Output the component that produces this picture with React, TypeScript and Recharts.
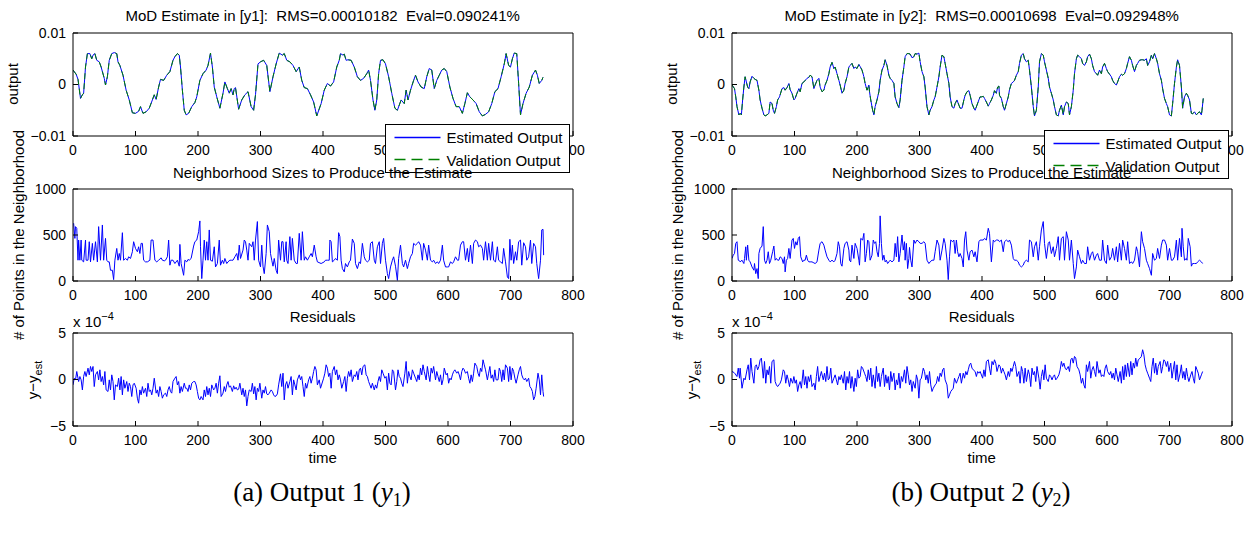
import React from "react";
import { LineChart, Line, XAxis, YAxis } from "recharts";

const FONT = '"Liberation Sans", Arial, Helvetica, sans-serif';
const SERIF = '"Liberation Serif", "Times New Roman", serif';

const timeTicks = [0, 100, 200, 300, 400, 500, 600, 700, 800];
const outputTicks = [-0.01, 0, 0.01];
const sizeTicks = [0, 500, 1000];
const residualTicks = [-5, 0, 5];

// ---- output 1: estimated output (validation output lies on top of it) ----
const y1Time = [
  0, 5, 8, 12, 15, 17, 20, 23, 27, 30,
  32, 35, 38, 42, 45, 50, 52, 55, 58, 62,
  66, 70, 72, 75, 80, 85, 90, 95, 100, 105,
  108, 112, 117, 122, 127, 130, 133, 137, 140, 145,
  150, 155, 160, 163, 167, 170, 172, 175, 178, 181,
  185, 190, 195, 198, 203, 208, 213, 216, 220, 223,
  226, 230, 235, 240, 243, 247, 250, 253, 256, 258,
  260, 265, 270, 275, 280, 285, 289, 292, 296, 300,
  305, 310, 315, 320, 325, 330, 335, 338, 342, 347,
  352, 357, 362, 366, 370, 375, 380, 385, 390, 397,
  402, 407, 412, 417, 422, 426, 428, 432, 434, 437,
  440, 445, 450, 455, 460, 465, 470, 473, 476, 480,
  483, 486, 489, 492, 496, 500, 505, 510, 515, 519,
  525, 530, 533, 536, 540, 545, 548, 552, 557, 562,
  566, 570, 574, 578, 582, 586, 590, 594, 598, 603,
  608, 613, 618, 623, 627, 631, 635, 640, 645, 650,
  655, 660, 665, 670, 675, 680, 685, 690, 693, 697,
  700, 703, 706, 710, 713, 716, 720, 725, 730, 735,
  740, 743, 746, 750, 752,
];
const y1Output = [
  0.0028, 0.002, 0.001, -0.0027, -0.002, -0.0017, 0.0034, 0.006, 0.006, 0.005,
  0.0057, 0.006, 0.0047, 0.0044, 0.0034, 0.0012, -0.0001, 0.0015, 0.0047, 0.006,
  0.0062, 0.006, 0.0044, 0.0037, 0.0018, -0.0011, -0.003, -0.0055, -0.0056, -0.0052,
  -0.0043, -0.0056, -0.0053, -0.0046, -0.003, -0.002, -0.0029, -0.0005, 0.001, 0.0008,
  0.0018, 0.0025, 0.0047, 0.0054, 0.006, 0.0057, 0.0034, -0.0011, -0.005, -0.0059,
  -0.0056, -0.0043, -0.0035, -0.0024, 0.0008, 0.0021, 0.0028, 0.0037, 0.0061, 0.0034,
  -0.0005, -0.0024, -0.0046, -0.0017, 0.0005, -0.0008, -0.0017, -0.0008, -0.002, -0.0008,
  -0.0006, -0.0048, -0.003, -0.002, -0.0014, -0.0043, -0.005, -0.002, 0.004, 0.0044,
  0.0047, 0.0037, -0.0014, 0.0015, 0.004, 0.0061, 0.0057, 0.006, 0.0047, 0.0044,
  0.0037, 0.0025, 0.0034, 0.0008, -0.0006, -0.0008, -0.002, -0.0034, -0.0061, -0.0037,
  -0.0011, 0.0002, -0.0003, 0.0005, 0.0034, 0.0047, 0.006, 0.0057, 0.0059, 0.0047,
  0.0048, 0.0047, 0.0034, 0.0015, 0.0008, 0.0012, 0.0021, 0.0028, 0.0008, -0.003,
  -0.005, -0.003, 0.0021, 0.0047, 0.0048, 0.004, 0.0015, -0.0017, -0.0046, -0.005,
  -0.003, -0.0037, -0.0011, -0.003, -0.0011, 0.0008, 0.0018, 0.0005, -0.0005, -0.0008,
  0.0015, 0.0031, 0.0028, -0.0008, 0.0008, 0.0018, 0.0028, 0.0031, 0.0025, -0.0005,
  -0.0027, -0.0043, -0.0043, -0.0056, -0.0037, -0.0016, -0.0024, -0.003, -0.0037, -0.0053,
  -0.0061, -0.0058, -0.0053, -0.0037, -0.0014, -0.0008, 0.0015, 0.004, 0.006, 0.0037,
  0.0034, 0.005, 0.0061, 0.006, 0.0002, -0.0059, -0.0037, -0.0017, -0.0005, 0.0018,
  0.0028, 0.0018, 0.0002, 0.0008, 0.0014,
];

// ---- output 2 ----
const y2Time = [
  0, 4, 6, 8, 11, 13, 15, 17, 19, 21,
  23, 25, 27, 29, 32, 35, 37, 40, 43, 45,
  48, 51, 53, 56, 59, 61, 64, 66, 68, 71,
  73, 76, 80, 83, 85, 88, 91, 93, 96, 99,
  101, 104, 107, 109, 112, 115, 120, 123, 125, 128,
  131, 133, 136, 139, 141, 144, 147, 149, 152, 155,
  157, 160, 163, 165, 168, 171, 173, 176, 179, 181,
  184, 187, 189, 192, 195, 197, 200, 203, 205, 208,
  211, 213, 216, 219, 220, 222, 225, 227, 229, 232,
  235, 237, 240, 243, 245, 248, 251, 253, 256, 259,
  261, 264, 267, 269, 272, 275, 277, 280, 283, 285,
  288, 291, 293, 296, 299, 301, 304, 307, 309, 312,
  315, 317, 320, 323, 325, 328, 331, 333, 336, 339,
  341, 344, 347, 349, 352, 355, 357, 360, 363, 365,
  368, 371, 373, 376, 379, 381, 384, 387, 389, 392,
  395, 397, 399, 402, 404, 407, 410, 412, 415, 418,
  420, 423, 425, 427, 428, 431, 434, 436, 439, 442,
  444, 447, 450, 452, 455, 458, 460, 463, 466, 468,
  471, 474, 476, 479, 482, 484, 487, 490, 492, 495,
  498, 500, 503, 506, 508, 511, 514, 516, 519, 522,
  524, 527, 530, 532, 535, 538, 540, 543, 546, 548,
  551, 553, 556, 559, 561, 564, 567, 569, 572, 575,
  577, 580, 583, 585, 588, 591, 593, 596, 599, 601,
  604, 607, 609, 612, 615, 617, 620, 623, 625, 628,
  631, 633, 636, 639, 641, 644, 647, 649, 652, 655,
  657, 660, 663, 665, 668, 671, 673, 676, 679, 681,
  684, 687, 689, 692, 695, 697, 700, 703, 705, 708,
  711, 713, 716, 719, 721, 724, 727, 729, 732, 735,
  737, 740, 743, 745, 748, 751, 752, 754,
];
const y2Output = [
  -0.0001, -0.0008, -0.0024, -0.0043, -0.0059, -0.0056, -0.0059, -0.003, -0.0005, 0.0015,
  0.0005, -0.0005, -0.0008, 0.0005, 0.0016, 0.0012, 0.001, 0.0008, -0.0011, -0.003,
  -0.0046, -0.0059, -0.0061, -0.0059, -0.0056, -0.0034, -0.0037, -0.005, -0.0056, -0.0043,
  -0.003, -0.0024, -0.0008, -0.0006, -0.0011, -0.0006, 0.0002, -0.001, -0.0017, -0.003,
  -0.0027, -0.0017, -0.0008, -0.0014, 0.0002, 0.0005, 0.0012, 0.0014, 0.0018, 0.0015,
  -0.0008, -0.0001, 0.0008, 0.0012, -0.0005, -0.0014, -0.0011, -0.0001, 0.0008, 0.0021,
  0.0034, 0.0043, 0.0031, 0.0034, 0.0021, 0.0008, -0.0001, -0.0017, -0.0011, 0.0002,
  0.0015, 0.0034, 0.0037, 0.0041, 0.0031, 0.0034, 0.0031, 0.0039, 0.0035, 0.0028,
  0.0015, 0.0002, -0.0011, -0.0001, -0.0014, -0.003, -0.005, -0.0059, -0.0043, -0.003,
  -0.0014, 0.0008, 0.0028, 0.0037, 0.0048, 0.0037, 0.0018, 0.0012, 0.0008, 0.0002,
  -0.0024, -0.0037, -0.0045, -0.003, 0.0008, 0.0034, 0.0054, 0.006, 0.006, 0.0059,
  0.0052, 0.0054, 0.006, 0.0059, 0.0061, 0.0044, 0.0025, 0.0015, -0.0005, -0.0043,
  -0.0059, -0.005, -0.0043, -0.003, -0.0024, -0.0005, 0.0015, 0.0034, 0.0057, 0.0054,
  0.0041, 0.0021, 0.0002, -0.0024, -0.0043, -0.0046, -0.0037, -0.003, -0.004, -0.0046,
  -0.0046, -0.003, -0.0021, -0.0014, -0.0012, -0.0021, -0.0037, -0.0046, -0.005, -0.004,
  -0.003, -0.0024, -0.0024, -0.0023, -0.0027, -0.0034, -0.0042, -0.0037, -0.003, -0.0021,
  -0.0012, -0.0017, -0.0005, -0.0003, -0.0021, -0.0027, -0.0043, -0.005, -0.0037, -0.0024,
  -0.001, 0.0002, 0.0005, 0.0008, 0.0018, 0.0025, 0.0041, 0.0057, 0.006, 0.005,
  0.0044, 0.0047, 0.0028, -0.0005, -0.0043, -0.0061, -0.005, -0.0005, 0.0044, 0.006,
  0.0057, 0.0044, 0.0028, 0.0012, -0.0005, -0.0017, -0.003, -0.0043, -0.0059, -0.0061,
  -0.005, -0.004, -0.0059, -0.0043, -0.0034, -0.0037, -0.0059, -0.0043, -0.0011, 0.0021,
  0.005, 0.0057, 0.0054, 0.005, 0.0041, 0.0037, 0.0044, 0.0054, 0.0059, 0.005,
  0.0037, 0.0025, 0.0021, 0.0018, 0.0028, 0.0021, 0.0034, 0.0041, 0.0031, 0.0025,
  0.002, 0.0015, 0.0008, 0.0002, -0.0001, 0.0005, 0.0015, 0.002, 0.0018, 0.0021,
  0.0031, 0.0041, 0.0054, 0.0047, 0.0037, 0.0025, 0.0037, 0.0041, 0.0047, 0.0048,
  0.0048, 0.0047, 0.005, 0.0037, 0.0044, 0.0057, 0.005, 0.006, 0.005, 0.0041,
  0.0021, 0.0008, -0.0008, -0.0027, -0.0037, -0.0043, -0.0059, -0.0061, -0.0037, 0.0002,
  0.0034, 0.0048, 0.0037, -0.0005, -0.0046, -0.0024, -0.0017, -0.0021, -0.003, -0.0056,
  -0.0057, -0.0053, -0.0059, -0.0056, -0.0053, -0.0059, -0.005, -0.0027,
];

// ---- neighborhood sizes, output 1 ----
const n1Time = [
  1, 3, 4, 6, 8, 9, 11, 13, 14, 17,
  20, 21, 24, 26, 28, 31, 33, 36, 39, 41,
  44, 47, 49, 52, 54, 56, 58, 60, 63, 65,
  67, 70, 72, 74, 76, 79, 81, 84, 87, 89,
  92, 95, 97, 100, 103, 105, 107, 109, 111, 113,
  116, 119, 123, 125, 128, 131, 134, 137, 141, 143,
  146, 148, 151, 153, 155, 157, 160, 163, 167, 170,
  171, 173, 177, 179, 182, 184, 186, 189, 193, 195,
  198, 201, 203, 204, 206, 208, 210, 212, 214, 216,
  218, 220, 223, 226, 228, 231, 234, 236, 239, 241,
  243, 246, 248, 251, 254, 256, 259, 262, 264, 266,
  268, 272, 274, 276, 278, 280, 282, 286, 288, 290,
  292, 295, 297, 300, 302, 304, 306, 309, 311, 314,
  316, 318, 320, 322, 325, 327, 329, 332, 334, 336,
  338, 341, 342, 344, 347, 349, 351, 354, 357, 359,
  362, 365, 367, 370, 372, 375, 378, 381, 383, 386,
  389, 391, 397, 402, 404, 407, 410, 411, 413, 415,
  418, 420, 423, 425, 427, 429, 431, 434, 436, 439,
  442, 444, 447, 450, 452, 455, 458, 460, 463, 466,
  468, 471, 474, 476, 479, 482, 484, 487, 490, 492,
  495, 497, 500, 503, 505, 508, 511, 513, 516, 519,
  521, 524, 527, 529, 532, 535, 537, 540, 543, 545,
  548, 551, 553, 556, 559, 561, 564, 567, 569, 572,
  575, 577, 580, 583, 585, 588, 591, 593, 596, 599,
  601, 604, 607, 609, 612, 615, 617, 620, 623, 625,
  628, 631, 633, 636, 639, 641, 644, 647, 649, 652,
  655, 657, 660, 663, 665, 668, 671, 673, 676, 679,
  681, 684, 687, 689, 692, 695, 697, 699, 701, 703,
  705, 708, 710, 713, 716, 718, 721, 724, 726, 729,
  732, 734, 737, 740, 742, 745, 748, 750, 752, 753,
];
const n1Size = [
  628, 463, 591, 573, 226, 445, 226, 445, 226, 208,
  445, 226, 226, 427, 208, 409, 226, 427, 208, 591,
  226, 609, 226, 463, 226, 208, 208, 117, 117, 15,
  226, 354, 226, 299, 226, 525, 226, 245, 226, 263,
  245, 318, 427, 354, 318, 372, 299, 409, 409, 226,
  208, 208, 226, 445, 445, 226, 208, 226, 252, 226,
  219, 226, 263, 445, 172, 226, 226, 190, 226, 161,
  398, 190, 62, 226, 208, 234, 226, 245, 380, 427,
  445, 536, 653, 372, 26, 226, 445, 226, 427, 226,
  555, 226, 215, 372, 153, 190, 445, 172, 226, 190,
  245, 190, 208, 226, 226, 226, 263, 299, 226, 390,
  245, 336, 445, 427, 336, 226, 409, 372, 427, 226,
  445, 646, 226, 153, 390, 161, 80, 299, 609, 536,
  299, 226, 161, 245, 117, 80, 445, 226, 427, 427,
  208, 427, 226, 190, 482, 226, 463, 226, 190, 190,
  518, 226, 536, 226, 263, 226, 263, 299, 263, 390,
  263, 208, 190, 208, 226, 226, 226, 445, 427, 208,
  226, 245, 226, 525, 482, 226, 135, 99, 190, 153,
  208, 226, 456, 409, 190, 135, 208, 190, 409, 263,
  226, 208, 226, 409, 427, 226, 190, 372, 427, 190,
  409, 463, 226, 80, 26, 153, 226, 263, 161, 7,
  245, 390, 190, 153, 226, 135, 190, 263, 299, 409,
  390, 409, 427, 390, 226, 409, 336, 226, 390, 226,
  208, 226, 190, 208, 190, 226, 390, 226, 153, 153,
  153, 208, 190, 208, 263, 226, 226, 390, 427, 427,
  226, 354, 208, 390, 190, 409, 445, 427, 372, 390,
  354, 226, 427, 226, 409, 226, 427, 226, 208, 372,
  226, 208, 190, 354, 208, 44, 26, 453, 226, 390,
  190, 318, 226, 427, 445, 172, 416, 372, 226, 263,
  445, 190, 409, 372, 190, 26, 226, 555, 562, 281,
];

// ---- neighborhood sizes, output 2 ----
const n2Time = [
  0, 2, 4, 6, 8, 10, 11, 13, 16, 19,
  20, 22, 23, 25, 27, 29, 32, 35, 36, 38,
  40, 42, 43, 45, 48, 50, 52, 54, 56, 58,
  60, 62, 65, 67, 69, 71, 73, 75, 77, 80,
  82, 84, 85, 87, 89, 91, 93, 96, 98, 100,
  102, 104, 106, 108, 110, 113, 115, 117, 119, 121,
  123, 125, 128, 131, 133, 136, 139, 141, 144, 147,
  149, 152, 155, 157, 160, 163, 165, 168, 170, 172,
  174, 176, 179, 181, 184, 187, 188, 190, 192, 195,
  197, 200, 203, 204, 206, 209, 211, 213, 215, 217,
  219, 221, 224, 226, 228, 230, 232, 234, 236, 237,
  239, 241, 243, 245, 247, 249, 251, 253, 256, 259,
  261, 263, 265, 267, 269, 272, 274, 276, 277, 279,
  281, 283, 284, 286, 288, 291, 293, 296, 299, 301,
  304, 307, 309, 312, 315, 317, 320, 323, 325, 328,
  331, 333, 336, 339, 341, 344, 346, 348, 350, 353,
  355, 357, 359, 361, 363, 365, 368, 370, 372, 374,
  376, 379, 381, 384, 387, 389, 392, 395, 397, 402,
  404, 407, 410, 412, 415, 418, 420, 423, 426, 428,
  431, 434, 436, 439, 442, 444, 447, 450, 452, 455,
  458, 460, 463, 466, 468, 471, 474, 476, 479, 482,
  484, 487, 490, 492, 495, 498, 500, 503, 506, 508,
  511, 514, 516, 519, 522, 524, 527, 530, 532, 535,
  538, 540, 543, 546, 548, 551, 553, 556, 559, 561,
  564, 567, 569, 572, 575, 577, 580, 583, 585, 588,
  591, 593, 596, 599, 601, 604, 607, 609, 612, 615,
  617, 620, 623, 625, 628, 631, 633, 636, 639, 641,
  644, 647, 649, 652, 655, 657, 660, 663, 665, 668,
  671, 673, 676, 679, 681, 684, 687, 689, 692, 695,
  697, 700, 703, 705, 708, 711, 713, 716, 719, 720,
  722, 724, 727, 728, 730, 733, 735, 737, 740, 743,
  745, 748, 751, 753,
];
const n2Size = [
  245, 281, 299, 409, 427, 226, 226, 208, 226, 190,
  245, 372, 226, 390, 226, 208, 153, 117, 190, 80,
  135, 26, 299, 354, 380, 591, 226, 190, 226, 318,
  190, 226, 318, 380, 226, 245, 226, 226, 263, 245,
  190, 263, 99, 226, 245, 354, 245, 445, 463, 354,
  427, 390, 463, 482, 263, 208, 226, 226, 281, 226,
  208, 208, 208, 197, 190, 208, 336, 409, 427, 390,
  336, 263, 226, 208, 226, 208, 226, 299, 427, 372,
  190, 161, 354, 409, 427, 336, 226, 208, 390, 245,
  409, 354, 226, 172, 463, 445, 518, 208, 299, 445,
  427, 226, 281, 445, 409, 427, 318, 263, 409, 708,
  409, 226, 281, 208, 226, 190, 208, 226, 208, 226,
  409, 263, 482, 208, 299, 500, 336, 427, 226, 409,
  135, 245, 365, 226, 153, 445, 409, 445, 427, 409,
  409, 427, 409, 226, 190, 208, 226, 226, 318, 445,
  390, 226, 336, 463, 409, 226, 15, 263, 445, 427,
  445, 299, 445, 318, 263, 299, 245, 153, 445, 536,
  336, 226, 318, 336, 263, 318, 208, 427, 445, 445,
  463, 445, 573, 518, 208, 445, 427, 445, 445, 427,
  445, 318, 427, 445, 427, 445, 390, 245, 226, 226,
  208, 172, 153, 172, 208, 226, 208, 445, 427, 263,
  372, 427, 226, 372, 555, 646, 409, 245, 409, 427,
  299, 372, 263, 354, 482, 226, 463, 482, 226, 536,
  445, 226, 445, 190, 26, 153, 336, 263, 190, 226,
  190, 190, 372, 226, 299, 318, 226, 281, 299, 226,
  226, 445, 226, 190, 390, 226, 263, 354, 226, 372,
  208, 409, 226, 445, 354, 226, 427, 190, 208, 190,
  226, 372, 318, 153, 536, 427, 354, 226, 190, 135,
  62, 299, 226, 245, 354, 245, 390, 445, 445, 390,
  226, 354, 226, 226, 263, 445, 226, 463, 263, 573,
  372, 226, 245, 226, 463, 372, 161, 190, 190, 190,
  208, 226, 208, 190,
];

// ---- residuals, output 1 (x 1e-4) ----
const r1Time = [
  0, 2, 4, 6, 9, 11, 13, 15, 17, 19,
  21, 24, 26, 28, 30, 32, 34, 36, 39, 41,
  43, 45, 47, 49, 51, 53, 56, 58, 60, 62,
  64, 66, 68, 71, 73, 75, 77, 79, 81, 83,
  86, 88, 90, 92, 94, 96, 98, 101, 103, 105,
  107, 109, 111, 113, 116, 118, 120, 122, 124, 126,
  128, 130, 133, 135, 137, 139, 141, 143, 145, 148,
  150, 152, 154, 156, 158, 160, 163, 165, 167, 169,
  171, 173, 175, 178, 180, 182, 184, 186, 188, 190,
  193, 195, 197, 199, 201, 203, 205, 208, 210, 212,
  214, 216, 218, 220, 222, 225, 227, 229, 231, 233,
  235, 237, 240, 242, 244, 246, 248, 250, 252, 255,
  257, 259, 261, 263, 265, 267, 270, 272, 274, 276,
  278, 280, 282, 285, 287, 289, 291, 293, 295, 297,
  299, 302, 304, 306, 308, 310, 312, 314, 317, 319,
  321, 323, 325, 327, 329, 332, 334, 336, 338, 340,
  342, 344, 347, 349, 351, 353, 355, 357, 359, 362,
  364, 366, 368, 370, 372, 374, 377, 379, 381, 383,
  385, 387, 389, 391, 394, 396,
  401, 403, 405, 407, 409, 411, 413, 415, 418, 420,
  422, 424, 426, 428, 430, 433, 435, 437, 439, 441,
  443, 445, 447, 450, 452, 454, 456, 458, 460, 462,
  464, 467, 469, 471, 473, 475, 477, 479, 482, 484,
  486, 488, 490, 492, 494, 496, 499, 501, 503, 505,
  507, 509, 511, 513, 516, 518, 520, 522, 524, 526,
  528, 531, 533, 535, 537, 539, 541, 543, 545, 548,
  550, 552, 554, 556, 558, 560, 562, 565, 567, 569,
  571, 573, 575, 577, 580, 582, 584, 586, 588, 590,
  592, 594, 597, 599, 601, 603, 605, 607, 609, 611,
  614, 616, 618, 620, 622, 624, 626, 628, 631, 633,
  635, 637, 639, 641, 643, 646, 648, 650, 652, 654,
  656, 658, 660, 663, 665, 667, 669, 671, 673, 675,
  677, 680, 682, 684, 686, 688, 690, 692, 695, 697,
  699, 701, 703, 705, 707, 709, 712, 714, 716, 718,
  720, 722, 724, 726, 729, 731, 733, 735, 737, 739,
  741, 744, 746, 748, 750, 752, 753,
];
const r1Residual = [
  -0.58, 0.14, -0.04, 0.86, -0.22, 0.32, -0.04, -1.12, 0.32, 0.86,
  0.32, 1.22, 0.5, 1.4, 0.86, 1.4, -0.76, 0.5, 0.86, -0.04,
  1.04, -0.22, 0.32, -0.58, 0.86, -1.12, -1.29, -0.04, -1.12, 0.5,
  -0.22, -2.19, -0.58, -0.76, 0.14, -1.12, 0.32, -1.65, -0.04, -0.94,
  -0.22, -1.29, -0.4, -0.76, -1.83, -0.58, -0.4, -0.94, -2.01, -2.55,
  -1.12, -1.65, -0.76, -1.47, -0.94, -1.83, -0.4, -1.29, -1.12, -1.65,
  -0.94, 0.14, -1.47, -1.12, -1.83, -0.76, -1.29, -2.01, -1.65, -1.47,
  -1.83, -1.12, -0.76, -1.29, -1.47, -0.22, 0.14, 0.32, -0.58, -0.22,
  -1.47, -0.76, -1.29, -0.4, -0.94, -0.94, -1.29, -0.58, -1.12, -0.4,
  -0.22, -0.22, -0.58, -1.29, -2.01, -2.19, -1.83, -2.19, -1.12, -1.83,
  -0.76, -1.65, -0.94, -1.83, -0.58, -1.12, -0.94, -0.4, -1.47, -0.4,
  0.4, -1.83, -1.47, -0.76, -1.29, -0.58, -0.22, -0.83, -0.68, -1.29,
  -0.68, -1.04, -0.83, -1.12, -1.04, -0.4, -1.65, -0.94, -1.83, -1.12,
  -2.84, -1.83, -1.12, -1.29, -0.4, -1.55, -0.76, -2.19, -0.94, -1.29,
  -0.4, -2.01, -1.12, -1.47, -0.76, -1.55, -1.65, -1.47, -1.12, -1.29,
  -1.65, -1.83, -1.76, -1.55, -0.58, 0.61, -0.76, 0.68, -2.19, -0.58,
  -0.22, -0.94, -0.22, 0.32, -1.65, -0.04, -0.58, -1.12, -0.04, 0.5,
  -0.04, 0.32, -0.76, -1.83, -0.4, -0.94, -0.04, 0.32, -0.4, 0.14,
  0.86, 1.4, 1.04, -0.58, -0.04, -0.94,
  0.14, 0.68, 1.58, 1.22, 0.32, 0.68, -0.94, 0.86, 1.4, 0.5,
  1.04, -0.04, 0.5, -0.04, -0.94, -0.22, 0.32, -1.29, 0.14, 0.86,
  0.32, 1.04, -0.22, 0.5, 0.32, 0.86, -0.04, 1.04, 1.22, 0.5,
  1.4, 1.58, 0.5, 0.32, -0.22, -0.58, -0.94, -0.4, -1.12, -0.58,
  -0.94, -0.22, 0.32, -0.22, 1.04, 0.68, 0.14, 0.32, -1.12, 0.68,
  -0.4, -0.58, 1.04, 0.86, -1.12, -0.22, 1.04, 0.32, 0.14, -0.4,
  -0.76, 0.68, 1.94, -0.4, 0.86, 0.32, -0.04, 1.04, 0.68, 0.14,
  -0.22, 0.5, -0.04, 1.22, 0.5, 1.58, 0.86, -0.04, 1.4, 0.5,
  -0.22, 1.22, 0.68, 1.4, -0.04, 0.86, 0.32, -0.22, 0.5, -0.58,
  -0.04, 1.22, 0.5, 0.68, -0.4, 0.14, -0.04, 0.5, 0.86, 1.04,
  0.68, 0.86, 0.5, -0.04, 0.86, 1.22, 1.04, 0.68, 0.86, 0.14,
  -0.4, 0.5, -0.22, 0.68, 1.76, 1.4, 0.68, 0.32, 1.22, 0.86,
  2.12, 1.58, 1.04, -0.04, 0.68, 1.4, 0.14, 0.5, -0.22, 1.04,
  -0.04, -0.04, 1.22, 0.86, -0.22, 1.04, -0.04, 1.58, 1.22, -0.22,
  1.4, -0.04, 1.22, 0.86, 0.14, -0.4, 0.5, 1.04, 1.4, 0.5,
  0.14, -0.04, 0.14, -0.22, 0.14, -0.76, -0.94, -1.29, -2.19, -1.83,
  -0.94, 0.68, -0.04, -1.65, 0.5, -1.29, -1.83,
];

// ---- residuals, output 2 (x 1e-4) ----
const r2Time = [
  0, 3, 5, 8, 10, 12, 13, 16, 19, 21, 24,
  26, 28, 30, 32, 35, 37, 39, 41, 43, 45,
  47, 50, 52, 54, 56, 58, 60, 62, 64, 67,
  69, 71, 73, 75, 77, 79, 82, 84, 86, 88,
  90, 92, 94, 97, 99, 101, 103, 105, 107, 109,
  111, 114, 116, 118, 120, 122, 124, 126, 128, 131,
  133, 135, 137, 139, 141, 143, 146, 148, 150, 152,
  154, 156, 158, 160, 163, 165, 167, 169, 171, 173,
  175, 178, 180, 182, 184, 186, 188, 190, 192, 195,
  197, 199, 201, 203, 205, 207, 209, 212, 214, 216,
  218, 220, 222, 224, 226, 229, 231, 233, 235, 237,
  239, 242, 244, 246, 248, 250, 252, 254, 256, 259,
  261, 263, 265, 267, 269, 271, 273, 276, 278, 280,
  282, 284, 286, 288, 290, 293, 295, 297, 299, 301,
  303, 306, 308, 310, 312, 314, 316, 318, 320, 322,
  325, 327, 329, 331, 333, 335, 337, 339, 341, 344,
  346, 348, 350, 352, 354, 356, 359, 361, 363, 365,
  367, 370, 372, 374, 376, 378, 380, 382, 384, 386,
  389, 391, 393, 395, 397,
  401, 403, 405, 407, 410, 412, 414, 416, 418, 420,
  422, 424, 427, 429, 431, 433, 435, 437, 439, 442,
  444, 446, 448, 450, 452, 454, 456, 459, 461, 463,
  465, 467, 469, 471, 474, 476, 478, 480, 482, 484,
  486, 488, 491, 493, 495, 497, 499, 501, 503, 506,
  508, 510, 512, 514, 516, 518, 520, 523, 525, 527,
  529, 531, 533, 535, 538, 540, 542, 544, 546, 548,
  550, 552, 555, 557, 559, 561, 563, 565, 567, 569,
  572, 574, 576, 578, 580, 582, 584, 587, 589, 591,
  593, 595, 597, 599, 601, 604, 606, 608, 610, 612,
  614, 616, 618, 621, 623, 625, 627, 629, 631, 633,
  636, 638, 640, 642, 644, 646, 648, 650, 653, 655,
  657, 659, 661, 663, 665, 668, 670, 672, 674, 676,
  678, 680, 682, 685, 687, 689, 691, 693, 695, 697,
  699, 702, 704, 706, 708, 710, 712, 714, 717, 719,
  721, 723, 725, 727, 729, 731, 734, 736, 738, 740,
  742, 744, 746, 748, 751, 753,
];
const r2Residual = [
  0.86, 0.76, 0.61, 0.32, 1.22, 0.14, 1.22, -0.94, 0.14, -0.04, 1.04,
  1.58, -0.04, 2.3, 0.86, -0.4, 1.4, 1.58, 1.04, 1.4, 2.12,
  2.3, 0.14, 1.94, -0.4, 1.04, 0.5, 1.4, -0.4, 1.94, 2.12,
  -0.22, -0.58, -0.76, -0.58, -0.4, -0.04, 1.04, 0.86, -0.4, 0.5,
  -0.04, -0.76, 0.14, -0.4, 0.32, -0.4, -0.04, -1.29, -0.58, -0.22,
  -0.94, 1.04, -0.58, 0.32, -0.94, 0.32, -0.22, 0.5, -0.76, -0.4,
  -1.12, 0.32, 1.4, -0.22, 0.32, 0.86, -0.04, 0.68, -0.22, 1.4,
  -0.04, 0.14, 1.22, -0.4, 0.14, 0.5, -0.04, -0.58, 0.32, -0.04,
  0.5, -0.4, 0.86, -1.12, 0.32, -0.4, 0.86, -0.94, 0.32, -1.29,
  0.14, -0.76, 1.04, 0.14, 0.32, 1.4, 1.22, 0.68, 0.32, -0.22,
  1.04, -0.04, 1.22, -0.76, 0.5, -0.94, 1.4, -0.22, 0.68, -0.76,
  0.32, 1.22, -0.76, 0.5, -0.4, 0.32, -1.12, 0.86, -0.22, 0.68,
  -1.12, -0.04, -0.58, 0.68, -0.94, 0.32, -0.22, 1.04, -0.4, 1.4,
  0.5, -0.58, -0.04, -1.29, -0.22, -0.94, 0.5, -0.04, -2.01, -0.04,
  0.14, 1.22, 0.86, -0.04, 0.5, -0.4, 0.86, -0.58, -1.29, -0.94,
  -0.58, -0.4, 0.32, -0.22, 0.68, 0.32, 1.04, 1.22, -0.04, -0.58,
  -2.01, -1.65, -1.29, -1.12, -0.94, 0.14, -0.4, -0.04, 0.32, 0.68,
  -0.4, 0.68, 0.14, 0.86, 0.5, 1.04, 1.58, 1.76, 1.22, 1.04,
  0.86, 0.32, 0.86, 0.68, 0.86,
  0.14, 1.04, 0.32, 1.94, 2.12, 1.22, 0.5, 1.94, 1.58, 2.12,
  1.76, 0.86, 1.58, 1.4, 0.68, 1.22, 0.86, 0.5, -0.04, 0.86,
  0.32, 1.22, 0.86, 1.4, 1.94, 1.4, 0.32, 0.86, -0.4, 1.4,
  0.86, -0.4, 1.22, -0.22, 1.04, 0.5, -0.76, 1.22, 0.5, 0.86,
  -0.22, 1.4, 0.14, -1.04, 0.32, 1.04, -0.04, 1.58, 0.14, -0.22,
  0.5, 0.32, -0.04, 0.32, 0.5, -0.04, 0.14, 0.5, 1.04, 1.94,
  1.4, 1.76, 1.22, 1.04, 1.4, 0.86, 2.12, 2.3, 1.76, 2.48,
  2.3, 1.4, 1.04, 0.5, -0.4, 0.14, -0.58, -0.94, 1.58, 0.86,
  1.94, 0.14, 1.04, 1.4, 0.86, 0.32, 1.94, 0.68, 1.04, 0.32,
  0.5, 0.32, 1.22, 1.58, 0.86, 0.5, 0.86, 0.14, 0.68, -0.04,
  1.22, 0.5, -0.22, 0.86, -0.4, 1.4, -0.04, 1.58, 0.32, 1.76,
  0.32, 1.94, 0.5, 1.76, 1.22, 2.3, 1.4, 2.12, 2.3, 2.48,
  3.2, 2.66, 1.58, 1.04, 0.68, 0.14, -0.22, 1.4, 2.3, 0.68,
  1.76, 0.5, 1.4, 1.94, 0.68, 1.4, 2.12, 1.94, 1.4, 1.94,
  0.86, 1.76, 0.14, 1.04, 1.94, -0.04, 1.58, -0.22, 0.68, 1.58,
  0.14, 0.86, -0.04, 1.22, 0.32, -0.22, 0.5, 0.86, 0.14, -0.4,
  1.4, 1.04, 0.68, -0.04, 0.5, 0.86,
];

type Row = { t: number; a: number; b?: number };
const rows = (t: number[], a: number[], b?: number[]): Row[] =>
  t.map((x, i) => ({ t: x, a: a[i], b: b ? b[i] : undefined }));

const minus = (v: number) => (v < 0 ? "\u2212" + String(-v) : String(v));

const tickFont = { fontSize: 14, fill: "#000", fontFamily: FONT };

const YW = 60;
const MT = 10; // room above the frame for the top tick label
const MR = 20; // room right of the frame for the "800" label

function Panel({ x, y, h, data, domain, ticks, dashed }: {
  x: number; y: number; h: number; data: Row[]; domain: [number, number]; ticks: number[]; dashed?: boolean;
}) {
  return (
    <div style={{ position: "absolute", left: x - YW, top: y - MT - 1 }}>
      <LineChart width={YW + 500 + 1 + MR} height={h + MT + 1 + 24} data={data}
        margin={{ top: MT, right: MR, left: 0, bottom: 0 }}>
        <XAxis xAxisId="b" dataKey="t" type="number" domain={[0, 800]} ticks={timeTicks} interval={0}
          tickSize={-5} tickMargin={14} height={24} stroke="#000" tick={tickFont} allowDataOverflow />
        <XAxis xAxisId="t" orientation="top" dataKey="t" type="number" domain={[0, 800]} ticks={timeTicks} interval={0}
          tickSize={-5} tick={false} height={1} stroke="#000" allowDataOverflow />
        <YAxis yAxisId="l" type="number" domain={domain} ticks={ticks} interval={0} tickFormatter={minus}
          tickSize={-5} tickMargin={12} width={YW} stroke="#000" tick={tickFont} allowDataOverflow />
        <YAxis yAxisId="r" orientation="right" type="number" domain={domain} ticks={ticks} interval={0}
          tickSize={-5} tick={false} width={1} stroke="#000" allowDataOverflow />
        <Line xAxisId="b" yAxisId="l" dataKey="a" type="linear" stroke="#0000ff" strokeWidth={1}
          dot={false} isAnimationActive={false} />
        {dashed && (
          <Line xAxisId="b" yAxisId="l" dataKey="b" type="linear" stroke="#008000" strokeWidth={1}
            strokeDasharray="6 4" dot={false} isAnimationActive={false} />
        )}
      </LineChart>
    </div>
  );
}

const PLOT_X = [73, 732];
const TOP_Y = 33, TOP_H = 103;
const MID_Y = 189, MID_H = 92;
const BOT_Y = 333, BOT_H = 93;

function Labels({ dx, name, rms, ev, legendY }: { dx: number; name: string; rms: string; ev: string; legendY: number }) {
  const cx = dx + 322.7;
  const lx = dx + 385.5;
  return (
    <g fontFamily={FONT} fill="#000">
      <text x={cx} y={20.5} fontSize={15} textAnchor="middle" style={{ whiteSpace: "pre" }}>
        {`MoD Estimate in [${name}]:  RMS=${rms}  Eval=${ev}`}
      </text>
      <text transform={`translate(${dx + 18},84) rotate(-90)`} fontSize={15} textAnchor="middle">output</text>
      <text transform={`translate(${dx + 24},235) rotate(-90)`} fontSize={15} textAnchor="middle">
        # of Points in the Neighborhood
      </text>
      <text transform={`translate(${dx + 38},380) rotate(-90)`} fontSize={15} textAnchor="middle">
        y{"\u2212"}y<tspan fontSize={11} dy={4}>est</tspan>
      </text>
      {/* legend box */}
      <rect x={lx} y={legendY} width={184} height={48} fill="#fff" stroke="#000" strokeWidth={1} />
      <line x1={lx + 9} x2={lx + 55} y1={legendY + 13} y2={legendY + 13} stroke="#0000ff" strokeWidth={1.3} />
      <line x1={lx + 9} x2={lx + 55} y1={legendY + 35} y2={legendY + 35} stroke="#008000" strokeWidth={1.3} strokeDasharray="11 6" />
      <text x={lx + 61} y={legendY + 18} fontSize={15}>Estimated Output</text>
      <text x={lx + 61} y={legendY + 41} fontSize={15}>Validation Output</text>
      <text x={cx} y={177.5} fontSize={15} textAnchor="middle">Neighborhood Sizes to Produce the Estimate</text>
      <text x={cx} y={321.5} fontSize={15} textAnchor="middle">Residuals</text>
      <text x={dx + 73} y={327} fontSize={15}>
        x 10<tspan fontSize={11} dy={-7}>{"\u2212"}4</tspan>
      </text>
      <text x={cx} y={463} fontSize={15} textAnchor="middle">time</text>
    </g>
  );
}

export default function App() {
  const out1 = rows(y1Time, y1Output, y1Output);
  const out2 = rows(y2Time, y2Output, y2Output);
  return (
    <div style={{ position: "absolute", left: 0, top: 0, width: 1252, height: 540, background: "#fff" }}>
      <Panel x={PLOT_X[0]} y={TOP_Y} h={TOP_H} data={out1} domain={[-0.01, 0.01]} ticks={outputTicks} dashed />
      <Panel x={PLOT_X[0]} y={MID_Y} h={MID_H} data={rows(n1Time, n1Size)} domain={[0, 1000]} ticks={sizeTicks} />
      <Panel x={PLOT_X[0]} y={BOT_Y} h={BOT_H} data={rows(r1Time, r1Residual)} domain={[-5, 5]} ticks={residualTicks} />
      <Panel x={PLOT_X[1]} y={TOP_Y} h={TOP_H} data={out2} domain={[-0.01, 0.01]} ticks={outputTicks} dashed />
      <Panel x={PLOT_X[1]} y={MID_Y} h={MID_H} data={rows(n2Time, n2Size)} domain={[0, 1000]} ticks={sizeTicks} />
      <Panel x={PLOT_X[1]} y={BOT_Y} h={BOT_H} data={rows(r2Time, r2Residual)} domain={[-5, 5]} ticks={residualTicks} />
      <svg width={1252} height={540} style={{ position: "absolute", left: 0, top: 0, pointerEvents: "none" }}>
        <Labels dx={0} name="y1" rms="0.00010182" ev="0.090241%" legendY={124.5} />
        <Labels dx={659} name="y2" rms="0.00010698" ev="0.092948%" legendY={130.5} />
        <text x={322} y={501} fontSize={27} fontFamily={SERIF} textAnchor="middle">
          (a) Output 1 (<tspan fontStyle="italic">y</tspan><tspan fontSize={18} dy={5}>1</tspan><tspan dy={-5}>)</tspan>
        </text>
        <text x={981} y={501} fontSize={27} fontFamily={SERIF} textAnchor="middle">
          (b) Output 2 (<tspan fontStyle="italic">y</tspan><tspan fontSize={18} dy={5}>2</tspan><tspan dy={-5}>)</tspan>
        </text>
      </svg>
    </div>
  );
}
